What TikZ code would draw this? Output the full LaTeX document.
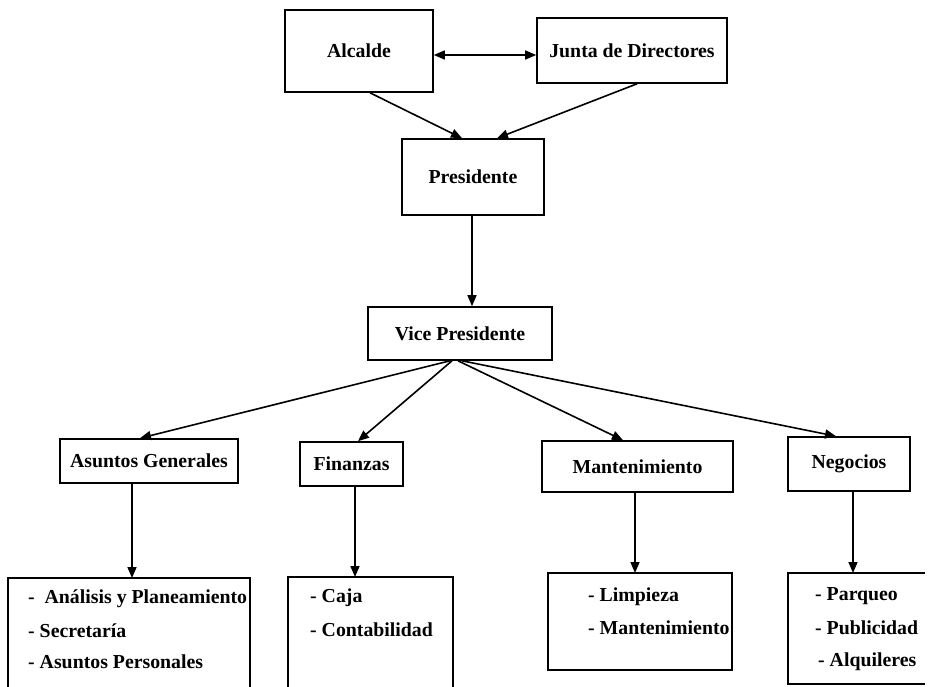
\documentclass[tikz,border=0pt]{standalone}
\usepackage{fontspec}
\setmainfont{Liberation Serif}
\usetikzlibrary{arrows.meta}
\begin{document}
\begin{tikzpicture}[x=1pt,y=-1pt,
  txt/.style={font=\fontsize{19.8}{24}\selectfont\bfseries},
  box/.style={draw, line width=1.6pt, rectangle, inner sep=0pt, txt},
  link/.style={line width=1.6pt, -{Triangle[length=11pt,width=9pt]}},
  listbox/.style={draw, line width=1.6pt},
  item/.style={anchor=base west, inner sep=0pt, txt},
]
\useasboundingbox (0,0) rectangle (929,687);
\clip (0,0) rectangle (929,687);

% top level
\node[box, minimum width=148pt, minimum height=82pt] (alcalde) at (359,51) {Alcalde};
\node[box, minimum width=190pt, minimum height=65pt] (junta) at (632,50.5) {Junta de Directores};
\node[box, minimum width=142pt, minimum height=76pt] (pres) at (473,177) {Presidente};
\node[box, minimum width=184pt, minimum height=53pt] (vice) at (460,333.5) {Vice Presidente};

% departments
\node[box, minimum width=178pt, minimum height=44pt] (asuntos) at (149,461) {Asuntos Generales};
\node[box, minimum width=103pt, minimum height=44pt] (fin) at (351.5,464) {Finanzas};
\node[box, minimum width=191pt, minimum height=51pt] (mant) at (637.5,466.5) {Mantenimiento};
\node[box, minimum width=122pt, minimum height=54pt] (neg) at (849,464) {Negocios};

% sections
\draw[listbox] (8,700) -- (8,578) -- (250,578) -- (250,700);
\draw[listbox] (288,700) -- (288,577) -- (453,577) -- (453,700);
\draw[listbox] (548,573) rectangle (732,670);
\draw[listbox] (925,684) -- (788,684) -- (788,573) -- (925,573);

\coordinate (s1) at (132,578);
\coordinate (s2) at (355,577);
\coordinate (s3) at (635,573);
\coordinate (s4) at (853,573);

\node[item] (a1) at (28,603) {-\ \ Análisis y Planeamiento};
\node[item] (a2) at (28,637) {- Secretaría};
\node[item] (a3) at (28,668) {- Asuntos Personales};
\node[item] (f1) at (310,602) {- Caja};
\node[item] (f2) at (310,636) {- Contabilidad};
\node[item] (m1) at (588,601) {- Limpieza};
\node[item] (m2) at (588,634) {- Mantenimiento};
\node[item] (n1) at (815,600) {- Parqueo};
\node[item] (n2) at (815,634) {- Publicidad};
\node[item] (n3) at (818,666) {- Alquileres};

% connectors
\draw[line width=1.6pt, {Triangle[length=11pt,width=9pt]}-{Triangle[length=11pt,width=9pt]}]
  ([yshift=-4pt]alcalde.east) -- ([yshift=-4.5pt]junta.west);
\draw[link] ([xshift=11pt]alcalde.south) -- ([xshift=-11pt]pres.north);
\draw[link] ([xshift=5pt]junta.south) -- ([xshift=24pt]pres.north);
\draw[link] ([xshift=-1pt]pres.south) -- ([xshift=-1pt]pres.south |- vice.north);

\draw[link] ([xshift=-10pt]vice.south) -- ([xshift=-9pt]asuntos.north);
\draw[link] ([xshift=-8pt]vice.south) -- ([xshift=6.5pt]fin.north);
\draw[link] ([xshift=-2pt]vice.south) -- ([xshift=-14.5pt]mant.north);
\draw[link] ([xshift=2pt]vice.south) -- ([xshift=-13pt]neg.north);

\draw[link] (asuntos.south -| s1) -- (s1);
\draw[link] (fin.south -| s2) -- (s2);
\draw[link] (mant.south -| s3) -- (s3);
\draw[link] (neg.south -| s4) -- (s4);
\end{tikzpicture}
\end{document}
